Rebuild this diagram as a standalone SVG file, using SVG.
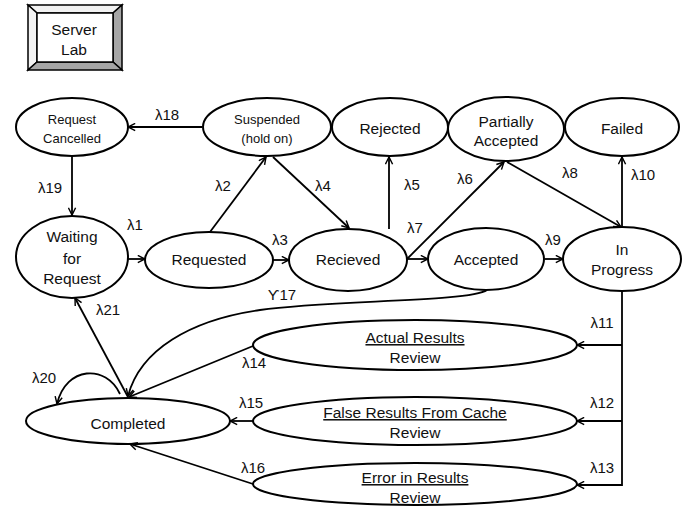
<svg xmlns="http://www.w3.org/2000/svg" width="691" height="506" viewBox="0 0 691 506">
<style>
  text { font-family: "Liberation Sans", Arial, sans-serif; font-size: 15.5px; fill: #111; text-anchor: middle; }
  .sm { font-size: 13px; }
  .lab { font-size: 15px; }
  .u { text-decoration: underline; }
  ellipse { fill: #fff; stroke: #000; stroke-width: 2; }
  .conn path { fill: none; stroke: #000; stroke-width: 1.8; marker-end: url(#arr); }
  .conn path.plain { marker-end: none; }
  .bev { stroke: #000; stroke-width: 1.5; stroke-linejoin: miter; }
</style>
<defs>
  <marker id="arr" viewBox="0 0 10 10" refX="9" refY="5" markerWidth="9" markerHeight="9" markerUnits="userSpaceOnUse" orient="auto">
    <path d="M1,1 L9,5 L1,9" fill="none" stroke="#000" stroke-width="1.6"/>
  </marker>
</defs>
<rect width="691" height="506" fill="#fff"/>

<g id="server-lab">
  <polygon class="bev" points="28,5 122,5 113,13 37,13" fill="#f2f2f2"/>
  <polygon class="bev" points="28,5 37,13 37,62 28,70" fill="#f2f2f2"/>
  <polygon class="bev" points="122,5 122,70 113,62 113,13" fill="#a6a6a6"/>
  <polygon class="bev" points="28,70 122,70 113,62 37,62" fill="#a6a6a6"/>
  <rect x="37" y="13" width="76" height="49" fill="#fff" stroke="#000" stroke-width="1.5"/>
  <text x="74" y="35">Server</text>
  <text x="74" y="55">Lab</text>
</g>

<g id="request-cancelled">
  <ellipse cx="72" cy="127" rx="56" ry="29"/>
  <text class="sm" x="72" y="124">Request</text>
  <text class="sm" x="72" y="143">Cancelled</text>
</g>
<g id="suspended">
  <ellipse cx="267" cy="127" rx="64" ry="29"/>
  <text class="sm" x="267" y="124">Suspended</text>
  <text class="sm" x="267" y="143">(hold on)</text>
</g>
<g id="rejected">
  <ellipse cx="390" cy="127" rx="58" ry="29"/>
  <text x="390" y="134">Rejected</text>
</g>
<g id="partially-accepted">
  <ellipse cx="506" cy="129" rx="58" ry="32"/>
  <text x="506" y="127">Partially</text>
  <text x="506" y="146">Accepted</text>
</g>
<g id="failed">
  <ellipse cx="622" cy="127" rx="57" ry="29"/>
  <text x="622" y="134">Failed</text>
</g>

<g id="waiting">
  <ellipse cx="72" cy="257" rx="56" ry="41"/>
  <text x="72" y="242">Waiting</text>
  <text x="72" y="264">for</text>
  <text x="72" y="284">Request</text>
</g>
<g id="requested">
  <ellipse cx="209" cy="260" rx="64" ry="28"/>
  <text x="209" y="265">Requested</text>
</g>
<g id="recieved">
  <ellipse cx="348" cy="260" rx="59" ry="31"/>
  <text x="348" y="265">Recieved</text>
</g>
<g id="accepted">
  <ellipse cx="486" cy="259" rx="58" ry="31"/>
  <text x="486" y="265">Accepted</text>
</g>
<g id="in-progress">
  <ellipse cx="622" cy="259" rx="59" ry="32"/>
  <text x="622" y="255">In</text>
  <text x="622" y="275">Progress</text>
</g>

<g id="actual-results">
  <ellipse cx="415" cy="345" rx="162" ry="25"/>
  <text class="u" x="415" y="343">Actual Results</text>
  <text x="415" y="363">Review</text>
</g>
<g id="false-results">
  <ellipse cx="415" cy="421" rx="162" ry="24"/>
  <text class="u" x="415" y="418">False Results From Cache</text>
  <text x="415" y="438">Review</text>
</g>
<g id="error-results">
  <ellipse cx="415" cy="484" rx="162" ry="21"/>
  <text class="u" x="415" y="483">Error in Results</text>
  <text x="415" y="503">Review</text>
</g>
<g id="completed">
  <ellipse cx="128" cy="421" rx="102" ry="23"/>
  <text x="128" y="429">Completed</text>
</g>

<g id="connectors" class="conn">
  <path d="M202,127 L128,127"/>
  <path d="M72,157 L72,215"/>
  <path d="M128,259 L145,259"/>
  <path d="M210,232 L266,157"/>
  <path d="M273,157 L349,228"/>
  <path d="M273,260 L289,260"/>
  <path d="M389,229 L389,157"/>
  <path d="M407,259 L504,162"/>
  <path d="M407,259 L428,259"/>
  <path d="M507,162 L621,227"/>
  <path d="M545,259 L563,259"/>
  <path d="M622,227 L622,157"/>
  <path d="M622,291 L622,485 L577,485"/>
  <path d="M622,345 L577,345"/>
  <path d="M622,421 L577,421"/>
  <path d="M253,346 L129,397"/>
  <path d="M487,290 C470,302 330,300 260,310 C190,320 140,350 128,396"/>
  <path d="M253,421 L230,421"/>
  <path d="M253,484 L130,444"/>
  <path d="M128,397 L75,298"/>
  <path d="M120,394 C106,364 66,366 57,404"/>
</g>

<g id="labels" class="lab">
  <text class="lab" x="167" y="120">λ18</text>
  <text class="lab" x="50" y="193">λ19</text>
  <text class="lab" x="135" y="230">λ1</text>
  <text class="lab" x="223" y="191">λ2</text>
  <text class="lab" x="323" y="191">λ4</text>
  <text class="lab" x="280" y="245">λ3</text>
  <text class="lab" x="412" y="190">λ5</text>
  <text class="lab" x="465" y="184">λ6</text>
  <text class="lab" x="415" y="233">λ7</text>
  <text class="lab" x="570" y="178">λ8</text>
  <text class="lab" x="553" y="245">λ9</text>
  <text class="lab" x="643" y="180">λ10</text>
  <text class="lab" x="602" y="328">λ11</text>
  <text class="lab" x="602" y="408">λ12</text>
  <text class="lab" x="602" y="473">λ13</text>
  <text class="lab" x="254" y="368">λ14</text>
  <text class="lab" x="251" y="408">λ15</text>
  <text class="lab" x="253" y="473">λ16</text>
  <text class="lab" x="282" y="300">ϒ17</text>
  <text class="lab" x="44" y="383">λ20</text>
  <text class="lab" x="108" y="315">λ21</text>
</g>
</svg>
